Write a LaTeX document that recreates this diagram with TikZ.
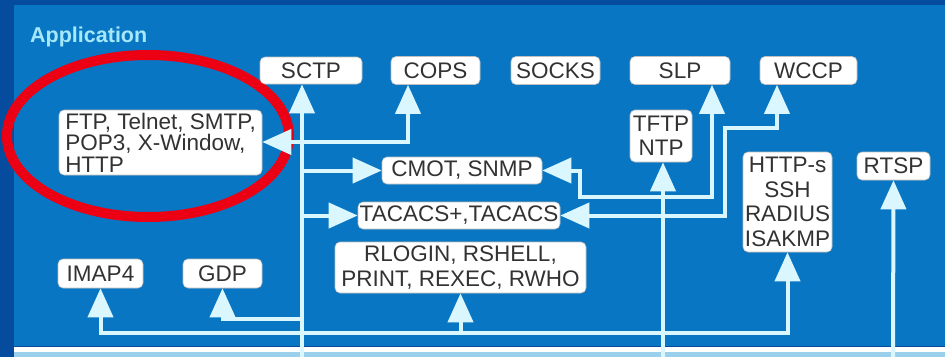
\documentclass[tikz,border=0pt]{standalone}
\usepackage{fontspec}
\setmainfont{Liberation Sans}
\usetikzlibrary{arrows.meta,positioning,calc}

\definecolor{panelblue}{RGB}{8,118,194}
\definecolor{edgeblue}{RGB}{6,76,158}
\definecolor{wirecyan}{RGB}{218,247,255}
\definecolor{labelcyan}{RGB}{165,232,250}
\definecolor{boxtext}{RGB}{50,50,50}
\definecolor{ringred}{RGB}{235,0,20}

\begin{document}
\begin{tikzpicture}[x=1pt, y=-1pt,
  proto/.style={draw=gray!50, line width=0.6pt, fill=white, rounded corners=5pt,
                inner sep=0pt, text=boxtext, align=center,
                font=\fontsize{22.5}{24.5}\selectfont},
  wire/.style={draw=wirecyan, line width=4pt},
  feed/.style={wire, -{Triangle[length=29pt, width=25pt]}},
  both/.style={wire, {Triangle[length=29pt, width=25pt]}-{Triangle[length=29pt, width=25pt]}}]

% background panel
\fill[edgeblue] (0,0) rectangle (945,357);
\fill[panelblue] (14,5) rectangle (945,346);
\fill[white] (14,347) rectangle (945,352);
\fill[wirecyan!70!panelblue] (14,352) rectangle (945,357);

\node[font=\bfseries\fontsize{21.5}{24}\selectfont, text=labelcyan, anchor=base west,
  inner sep=0pt] (layer) at (30,42) {Application};

% highlight ring
\draw[ringred, line width=10pt] (148,136) ellipse [x radius=141pt, y radius=81pt];

% protocol boxes
\node[proto, minimum width=102pt, minimum height=27pt] (sctp) at (311,70.5) {SCTP};
\node[proto, minimum width=89pt, minimum height=28pt] (cops) at (435.5,70.5) {COPS};
\node[proto, minimum width=89pt, minimum height=28pt] (socks) at (555.5,70.5) {SOCKS};
\node[proto, minimum width=100pt, minimum height=28pt] (slp) at (680,70.5) {SLP};
\node[proto, minimum width=97pt, minimum height=28pt] (wccp) at (808.5,70.5) {WCCP};
\node[proto, minimum width=203pt, minimum height=65pt, align=left,
  font=\fontsize{22.5}{21.5}\selectfont] (ftp) at (160.5,142.5)
  {FTP, Telnet, SMTP,\\POP3, X-Window,\\HTTP};
\node[proto, minimum width=62pt, minimum height=52pt] (tftp) at (661,136) {TFTP\\NTP};
\node[proto, minimum width=89pt, minimum height=100pt] (https) at (787.5,202)
  {HTTP-s\\SSH\\RADIUS\\ISAKMP};
\node[proto, minimum width=73pt, minimum height=28pt] (rtsp) at (893.5,166) {RTSP};
\node[proto, minimum width=160pt, minimum height=27pt] (cmot) at (462,170.5) {CMOT, SNMP};
\node[proto, minimum width=202pt, minimum height=27pt] (tacacs) at (459,215.5) {TACACS+,TACACS};
\node[proto, minimum width=251pt, minimum height=51pt] (rlogin) at (460.5,267.5)
  {RLOGIN, RSHELL,\\PRINT, REXEC, RWHO};
\node[proto, minimum width=85pt, minimum height=29pt] (imap) at (100.5,273.5) {IMAP4};
\node[proto, minimum width=79pt, minimum height=29pt] (gdp) at (222.5,273.5) {GDP};

% entry points from the layer below
\coordinate (tcp) at (302,357);
\coordinate (udp) at (663,357);
\coordinate (rtspin) at (893,357);
\coordinate (ftpbr) at (302,142);
\coordinate (gdpbr) at (302,319);
\coordinate (busbr) at (302,333);
\coordinate (snmpbend) at (580,197);
\coordinate (wccpbend) at (725,128);

% connectors
\draw[feed] (tcp) -- (tcp |- sctp.south);
\draw[feed] (ftpbr) -- (ftpbr -| ftp.east);
\draw[feed] (ftpbr) -| ([xshift=-27.5pt]cops.south);
\draw[feed] (tcp |- cmot.west) -- (cmot.west);
\draw[feed] (tcp |- tacacs.west) -- (tacacs.west);
\draw[feed] (gdpbr) -| (gdp.south);
\draw[feed] (busbr) -| (imap.south);
\draw[feed] (busbr) -| (https.south);
\draw[feed] (rlogin.south |- busbr) -- (rlogin.south);
\draw[feed] (udp) -- (udp |- tftp.south);
\draw[both] (cmot.east) -| (snmpbend) -| ([xshift=32pt]slp.south);
\draw[both] (tacacs.east) -| (wccpbend) -| ([xshift=-31.5pt]wccp.south);
\draw[feed] (rtspin) -- (rtsp.south);
\end{tikzpicture}
\end{document}
